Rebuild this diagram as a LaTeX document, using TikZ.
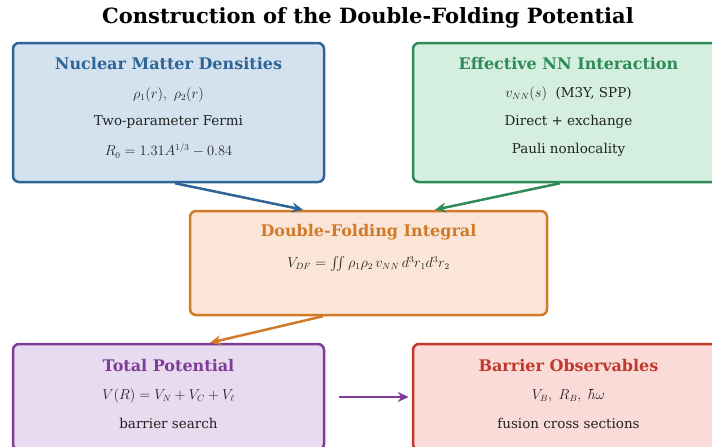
\documentclass[tikz,border=0pt]{standalone}
\usepackage{amsmath}
\usepackage{amssymb}
\usepackage{fontspec}
\setmainfont{DejaVu Serif}
\usetikzlibrary{arrows.meta}

\definecolor{densdk}{HTML}{2F6596}
\definecolor{denslt}{HTML}{D4E2EF}
\definecolor{intdk}{HTML}{2E8B57}
\definecolor{intlt}{HTML}{D4EFDF}
\definecolor{folddk}{HTML}{D07A2A}
\definecolor{foldlt}{HTML}{FBE5D6}
\definecolor{totdk}{HTML}{7D3C98}
\definecolor{totlt}{HTML}{E8DAEF}
\definecolor{obsdk}{HTML}{C0392B}
\definecolor{obslt}{HTML}{FADBD8}
\definecolor{bodytxt}{HTML}{222222}

\begin{document}
\begin{tikzpicture}[x=1pt, y=-1pt,
    box/.style={rectangle, rounded corners=6pt, line width=2.5pt, inner sep=0pt},
    head/.style={font=\fontsize{16}{19}\selectfont\bfseries},
    line/.style={font=\fontsize{13.5}{16}\selectfont, text=bodytxt},
    flow/.style={line width=2.5pt, -{Stealth[length=11pt, width=10pt]}}]
                    \useasboundingbox (0,0) rectangle (712,447);
                    % Title
                    \node[font=\fontsize{21}{25}\selectfont\bfseries] (title) at (368,18) {Construction of the Double-Folding Potential};
                    % Boxes
                    \node[box, draw=densdk, fill=denslt, minimum width=311pt, minimum height=139pt] (dens) at (168.5,112.5) {};
                    \node[box, draw=intdk, fill=intlt, minimum width=311pt, minimum height=139pt] (nn) at (568.5,112.5) {};
                    \node[box, draw=folddk, fill=foldlt, minimum width=357pt, minimum height=104pt] (fold) at (368.5,263) {};
                    \node[box, draw=totdk, fill=totlt, minimum width=311pt, minimum height=106pt] (tot) at (168.5,397) {};
                    \node[box, draw=obsdk, fill=obslt, minimum width=311pt, minimum height=106pt] (obs) at (568.5,397) {};
                    % Texts
                    \node[head, text=densdk] (denshead) at (168.5,64) {Nuclear Matter Densities};
                    \node[line] (dens1) at (168.5,95) {$\rho_1(r),\ \rho_2(r)$};
                    \node[line] (dens2) at (168.5,122) {Two-parameter Fermi};
                    \node[line] (dens3) at (168.5,151) {$R_0 = 1.31A^{1/3} - 0.84$};
                    \node[head, text=intdk] (nnhead) at (568.5,64) {Effective NN Interaction};
                    \node[line] (nn1) at (568.5,94) {$v_{NN}(s)$\ \ (M3Y, SPP)};
                    \node[line] (nn2) at (568.5,122) {Direct + exchange};
                    \node[line] (nn3) at (568.5,150) {Pauli nonlocality};
                    \node[head, text=folddk] (foldhead) at (368.5,232) {Double-Folding Integral};
                    \node[line] (fold1) at (368.5,264) {$V_{DF} = \iint \rho_1\rho_2\, v_{NN}\, d^3r_1 d^3r_2$};
                    \node[head, text=totdk] (tothead) at (168.5,366) {Total Potential};
                    \node[line] (tot1) at (168.5,396) {$V(R) = V_N + V_C + V_\ell$};
                    \node[line] (tot2) at (168.5,423) {barrier search};
                    \node[head, text=obsdk] (obshead) at (568.5,366) {Barrier Observables};
                    \node[line] (obs1) at (568.5,396) {$V_B,\ R_B,\ \hbar\omega$};
                    \node[line] (obs2) at (568.5,423) {fusion cross sections};
                    % Edges
                    \draw[flow, draw=densdk] ([xshift=6.5pt]dens.south) -- ([xshift=-65.5pt]fold.north);
                    \draw[flow, draw=intdk] ([xshift=-8.5pt]nn.south) -- ([xshift=66.5pt]fold.north);
                    \draw[flow, draw=folddk] ([xshift=-45.5pt]fold.south) -- ([xshift=41.5pt]tot.north);
                    \draw[flow, draw=totdk] ([xshift=14pt]tot.east) -- ([xshift=-3pt]obs.west);
                \end{tikzpicture}
\end{document}
